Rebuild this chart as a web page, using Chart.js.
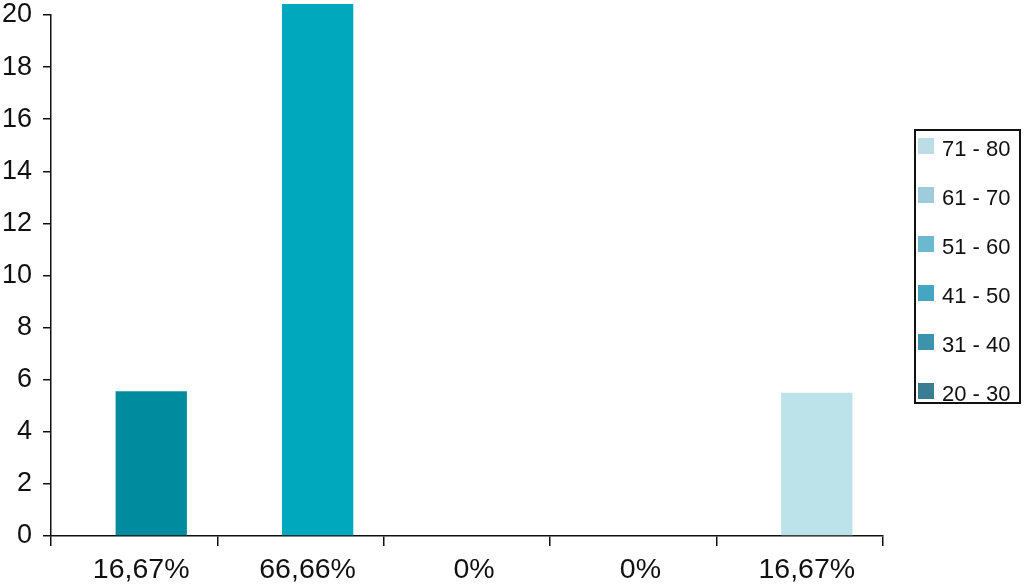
<!DOCTYPE html>
<html>
<head>
<meta charset="utf-8">
<script src="https://cdn.jsdelivr.net/npm/chart.js@4/dist/chart.umd.min.js"></script>
<style>
  html, body { margin: 0; padding: 0; background: #fff; }
  #wrap { position: relative; width: 1024px; height: 587px; }
  #legend {
    position: absolute; left: 914px; top: 129px; width: 103px; height: 271px;
    border: 2px solid #111; box-sizing: content-box;
    font-family: "Liberation Sans", Arial, sans-serif; font-size: 22px; color: #111;
  }
  .row { position: absolute; left: 2px; height: 22px; line-height: 22px; white-space: pre; }
  .sw { position: absolute; left: 0; top: 0; width: 16px; height: 16px; }
  .lab { position: absolute; left: 24px; top: 0; }
</style>
</head>
<body>
<div id="wrap">
  <canvas id="c" width="1024" height="587"></canvas>
  <div id="legend"></div>
</div>
<script>
const categories = ["16,67%", "66,66%", "0%", "0%", "16,67%"];
const values = [5.56, 20.42, 0, 0, 5.5];
const emptySlot = [null, null, null, null, null];
const barColors = ["#008C9E", "#00A8BE", "#2FA9C0", "#6DB7CF", "#BDE3EA"];
const legendLabels = ["71 - 80", "61 - 70", "51 - 60", "41 - 50", "31 - 40", "20 - 30"];
const legendColors = ["#BCDCE6", "#9ECCDC", "#6DB7CF", "#45A6C2", "#3E93AC", "#3A7D93"];
const yTicks = [0, 2, 4, 6, 8, 10, 12, 14, 16, 18, 20];

// HTML legend
const leg = document.getElementById('legend');
legendLabels.forEach((t, i) => {
  const r = document.createElement('div');
  r.className = 'row';
  r.style.top = (7 + i * 49) + 'px';
  r.innerHTML = '<span class="sw" style="background:' + legendColors[i] + '"></span><span class="lab"></span>';
  r.querySelector('.lab').textContent = t;
  leg.appendChild(r);
});

const font = "'Liberation Sans', Arial, sans-serif";
const barCfg = { borderWidth: 0, categoryPercentage: 0.41, barPercentage: 2.09, clip: false };
new Chart(document.getElementById('c'), {
  type: 'bar',
  data: {
    labels: categories,
    datasets: [
      Object.assign({ data: emptySlot, backgroundColor: barColors }, barCfg),
      Object.assign({ data: values, backgroundColor: barColors }, barCfg)
    ]
  },
  options: {
    responsive: false,
    animation: false,
    layout: { padding: { left: 0, right: 141, top: 15, bottom: 0 } },
    plugins: { legend: { display: false }, tooltip: { enabled: false } },
    scales: {
      x: {
        grid: { display: true, drawOnChartArea: false, drawTicks: true, tickLength: 10, color: '#111', lineWidth: 1.5, offset: true },
        border: { display: true, color: '#111', width: 1.5 },
        ticks: { color: '#111', font: { family: font, size: 28.5 }, padding: 7, maxRotation: 0, labelOffset: 7 },
        afterFit: s => { s.height = 51; s.paddingLeft = 0; s.paddingRight = 0; }
      },
      y: {
        min: 0, max: 20,
        afterBuildTicks: s => { s.ticks = yTicks.map(v => ({ value: v })); },
        grid: { display: true, drawOnChartArea: false, drawTicks: true, tickLength: 8, color: '#111', lineWidth: 1.5 },
        border: { display: true, color: '#111', width: 1.5 },
        ticks: { color: '#111', font: { family: font, size: 27 }, padding: 11 },
        afterFit: s => { s.width = 51; s.paddingTop = 0; s.paddingBottom = 0; }
      }
    }
  }
});
</script>
</body>
</html>
